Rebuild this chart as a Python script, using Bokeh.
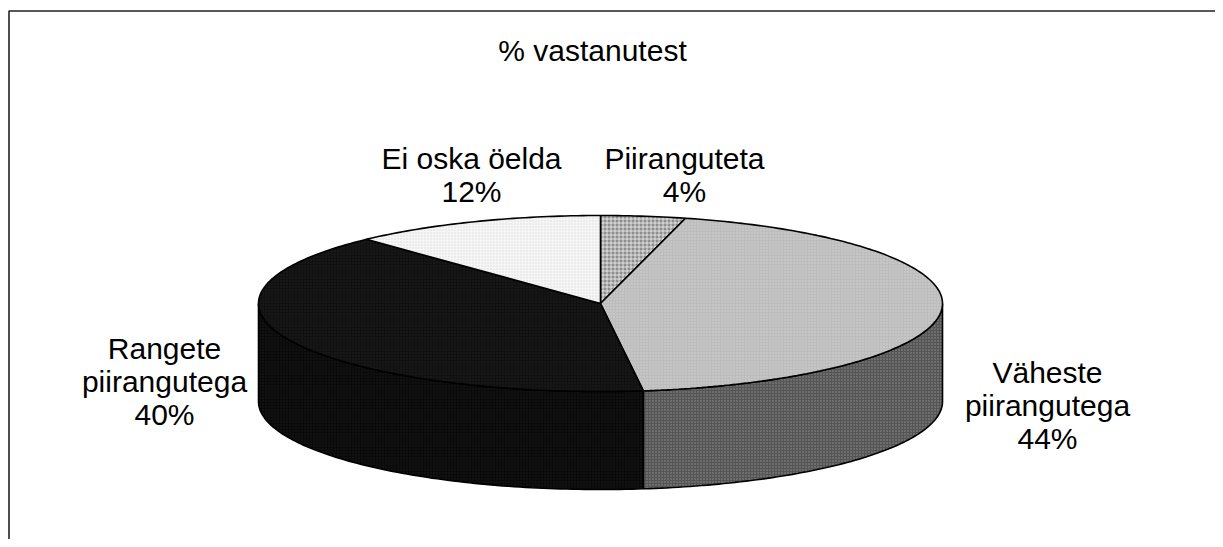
import numpy as np
from bokeh.plotting import figure
from bokeh.models import Range1d
from bokeh.core.properties import value
from bokeh.embed import file_html
from bokeh.resources import INLINE

# ---- data ----
categories = ["Piiranguteta", "Väheste piirangutega", "Rangete piirangutega", "Ei oska öelda"]
values = [4, 44, 40, 12]
label_lines = [["Piiranguteta"], ["Väheste", "piirangutega"], ["Rangete", "piirangutega"], ["Ei oska öelda"]]
title_text = "% vastanutest"

# ---- styles ----
top_colors = ["#8e8e8e", "#bdbdbd", "#111111", "#f6f6f6"]
side_colors = ["#6a6a6a", "#555555", "#0a0a0a", "#d0d0d0"]
hatches = ["cross", "dot", "dot", "dot"]
hatch_colors = ["white", "white", "#3a3a3a", "#bbbbbb"]
hatch_alphas = [0.7, 0.35, 0.35, 0.5]

# ---- layout (image pixel coords) ----
W, H = 1215, 539
cx, cy, rx, ry, depth = 600.0, 303.0, 342.0, 88.0, 98.0
label_pos = [(684, 158), (1047, 372), (164, 348), (471, 158)]
line_gap = 33
FONT = "Liberation Sans"
FS = "30px"

p = figure(width=W, height=H, output_backend="svg", toolbar_location=None,
           x_range=Range1d(0, W), y_range=Range1d(H, 0),
           x_axis_type=None, y_axis_type=None, min_border=0)
p.grid.visible = False
p.outline_line_color = None
p.background_fill_color = "white"
p.border_fill_color = "white"


def arc(a, b, dy=0.0):
    n = max(int(abs(b - a) / 1.0) + 2, 3)
    t = np.radians(np.linspace(a, b, n))
    return list(cx + rx * np.sin(t)), list(cy - ry * np.cos(t) + dy)


total = float(sum(values))
bounds = np.concatenate([[0.0], np.cumsum(values) / total * 360.0])

# side walls (front half only: 90..270 deg, clockwise from top)
for i in range(len(values)):
    a, b = bounds[i], bounds[i + 1]
    lo, hi = max(a, 90.0), min(b, 270.0)
    if lo < hi:
        tx, ty = arc(lo, hi)
        bx, by = arc(hi, lo, depth)
        p.patch(tx + bx, ty + by, fill_color=side_colors[i], line_color="black",
                line_width=1.6, hatch_pattern=hatches[i], hatch_color=hatch_colors[i],
                hatch_alpha=hatch_alphas[i], hatch_scale=3, hatch_weight=1)

# top faces
for i in range(len(values)):
    a, b = bounds[i], bounds[i + 1]
    ax_, ay_ = arc(a, b)
    p.patch([cx] + ax_, [cy] + ay_, fill_color=top_colors[i], line_color="black",
            line_width=1.6, hatch_pattern=hatches[i], hatch_color=hatch_colors[i],
            hatch_alpha=hatch_alphas[i], hatch_scale=3 if i else 4, hatch_weight=1)

# labels
tx, ty, tt = [], [], []
for i, lines in enumerate(label_lines):
    x0, y0 = label_pos[i]
    allines = lines + [f"{values[i]}%"]
    for k, s in enumerate(allines):
        tx.append(x0)
        ty.append(y0 + k * line_gap)
        tt.append(s)
p.text(x=tx, y=ty, text=tt, text_align="center", text_baseline="middle",
       text_font=value(FONT), text_font_size=FS, text_color="black")
p.text(x=[592], y=[50], text=[title_text], text_align="center", text_baseline="middle",
       text_font=value(FONT), text_font_size=FS, text_color="black")

# chart-area border (left and top visible)
p.line([8.5, 8.5, W + 5], [H + 5, 10.5, 10.5], line_color="#222222", line_width=1.6)

open("out.html", "w").write(file_html(p, INLINE))
